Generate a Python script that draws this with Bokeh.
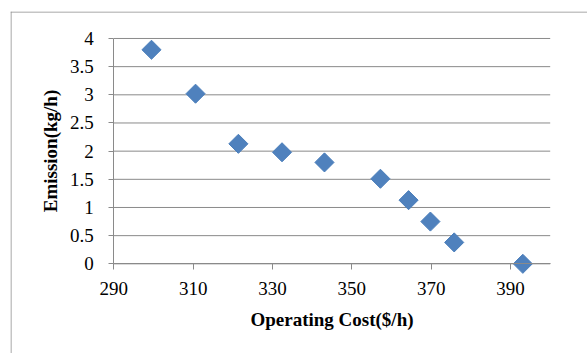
import math
from bokeh.plotting import figure
from bokeh.models import Range1d, FixedTicker, Span
from bokeh.embed import file_html
from bokeh.resources import INLINE

# Data
operating_cost = [299.5, 310.6, 321.4, 332.4, 343.1, 357.2, 364.3, 369.8, 375.8, 393.1]
emission = [3.80, 3.02, 2.13, 1.98, 1.80, 1.51, 1.13, 0.75, 0.38, 0.0]

x_ticks = [290, 310, 330, 350, 370, 390]
y_ticks = [0, 0.5, 1, 1.5, 2, 2.5, 3, 3.5, 4]
y_tick_labels = ["0", "0.5", "1", "1.5", "2", "2.5", "3", "3.5", "4"]
x_limits = (290, 400)
y_limits = (0, 4)

x_title = "Operating Cost($/h)"
y_title = "Emission(kg/h)"

GRID = "#8a8a8a"
BORDER = "#8c8c8c"
FONT = "Liberation Serif"

# The frame spans the whole chart box (its outer border is at the frame's
# left/top edge); axes are pinned at x=290 and y=0 inside it.
p = figure(width=587, height=353, output_backend="svg", toolbar_location=None,
           x_range=Range1d(263.96, 409.4), y_range=Range1d(-1.592, 4.479))
p.min_border_left = 10
p.min_border_right = 0
p.min_border_top = 11
p.min_border_bottom = 0
p.outline_line_color = None
p.background_fill_color = "white"
p.border_fill_color = "white"

# outer chart border: left and top edges
p.add_layout(Span(location=10.5, location_units="canvas", dimension="height",
                  line_color=BORDER, line_width=1))
p.add_layout(Span(location=11.5, location_units="canvas", dimension="width",
                  line_color=BORDER, line_width=1))

# horizontal grid lines, limited to the plotting area
p.xgrid.grid_line_color = None
p.ygrid.grid_line_color = None
p.segment(x0=[x_limits[0]] * len(y_ticks), y0=y_ticks,
          x1=[x_limits[1]] * len(y_ticks), y1=y_ticks,
          line_color=GRID, line_width=1)

p.scatter(operating_cost, emission, marker="square", angle=math.pi / 4, size=13.5,
          fill_color="#4F81BD", line_color="#4A7EBB")

# x axis
p.xaxis.fixed_location = y_limits[0]
p.xaxis.bounds = x_limits
p.xaxis.ticker = FixedTicker(ticks=x_ticks)
p.xaxis.axis_line_color = GRID
p.xaxis.major_tick_line_color = GRID
p.xaxis.major_tick_out = 6
p.xaxis.major_tick_in = 0
p.xaxis.minor_tick_line_color = None
p.xaxis.major_label_text_font = FONT
p.xaxis.major_label_text_font_size = "19px"
p.xaxis.major_label_text_color = "black"
p.xaxis.major_label_standoff = 12
p.xaxis.axis_label = x_title
p.xaxis.axis_label_text_font = FONT
p.xaxis.axis_label_text_font_size = "19px"
p.xaxis.axis_label_text_font_style = "bold"
p.xaxis.axis_label_text_color = "black"
p.xaxis.axis_label_standoff = 11

# y axis
p.yaxis.fixed_location = x_limits[0]
p.yaxis.bounds = y_limits
p.yaxis.ticker = FixedTicker(ticks=y_ticks)
p.yaxis.major_label_overrides = {t: l for t, l in zip(y_ticks, y_tick_labels)}
p.yaxis.axis_line_color = GRID
p.yaxis.major_tick_line_color = GRID
p.yaxis.major_tick_out = 5
p.yaxis.major_tick_in = 0
p.yaxis.minor_tick_line_color = None
p.yaxis.major_label_text_font = FONT
p.yaxis.major_label_text_font_size = "19px"
p.yaxis.major_label_text_color = "black"
p.yaxis.major_label_standoff = 15
p.yaxis.axis_label = y_title
p.yaxis.axis_label_text_font = FONT
p.yaxis.axis_label_text_font_size = "19px"
p.yaxis.axis_label_text_font_style = "bold"
p.yaxis.axis_label_text_color = "black"
p.yaxis.axis_label_standoff = 6

open("out.html", "w").write(file_html(p, INLINE))
